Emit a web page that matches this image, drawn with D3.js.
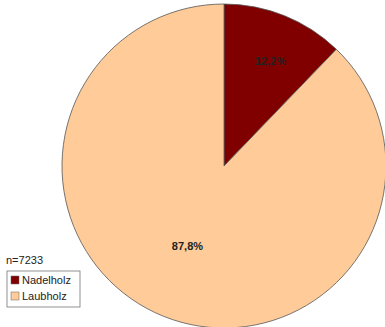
<!DOCTYPE html>
<html><head><meta charset="utf-8">
<script src="https://cdn.jsdelivr.net/npm/d3@7"></script>
<style>body{margin:0;background:#fff}</style>
</head><body>
<script>
const categories = ["Nadelholz", "Laubholz"];
const values = [12.2, 87.8];
const labels = ["12,2%", "87,8%"];
const colors = ["#800000", "#FFCC99"];
const sampleLabel = "n=7233";

const W = 385, H = 327;
const svg = d3.select("body").append("svg").attr("width", W).attr("height", H);
const cx = 224, cy = 166, r = 162;
const pie = d3.pie().sort(null)(values);
const arc = d3.arc().innerRadius(0).outerRadius(r);
const color = d3.scaleOrdinal().domain(categories).range(colors);
const g = svg.append("g").attr("transform", `translate(${cx},${cy})`);
g.selectAll("path").data(pie).enter().append("path")
  .attr("d", arc).attr("fill", (d, i) => color(categories[i]))
  .attr("stroke", "#555").attr("stroke-width", 0.8);
const labelArc = d3.arc().innerRadius(r * 0.62).outerRadius(r * 0.62);
const offsets = [[9, -8], [1, -9]];
g.selectAll("text").data(pie).enter().append("text")
  .attr("transform", (d, i) => { const c = labelArc.centroid(d); return `translate(${c[0]+offsets[i][0]},${c[1]+offsets[i][1]})`; })
  .attr("text-anchor", "middle")
  .attr("font-family", "Liberation Sans, Arial, sans-serif")
  .attr("font-size", 11).attr("font-weight", "bold").attr("fill", "#222")
  .text((d, i) => labels[i]);

svg.append("text").attr("x", 6).attr("y", 264)
  .attr("font-family", "Liberation Sans, Arial, sans-serif").attr("font-size", 11)
  .attr("fill", "#222").text(sampleLabel);
const lg = svg.append("g").attr("transform", "translate(7,271)");
lg.append("rect").attr("width", 73).attr("height", 36).attr("fill", "#fff").attr("stroke", "#777").attr("stroke-width", 0.8);
categories.forEach((c, i) => {
  lg.append("rect").attr("x", 4).attr("y", 5 + i * 16).attr("width", 8).attr("height", 8)
    .attr("fill", color(c)).attr("stroke", "#666").attr("stroke-width", 0.5);
  lg.append("text").attr("x", 15).attr("y", 13 + i * 16)
    .attr("font-family", "Liberation Sans, Arial, sans-serif").attr("font-size", 11)
    .attr("fill", "#222").text(c);
});
</script>
</body></html>
